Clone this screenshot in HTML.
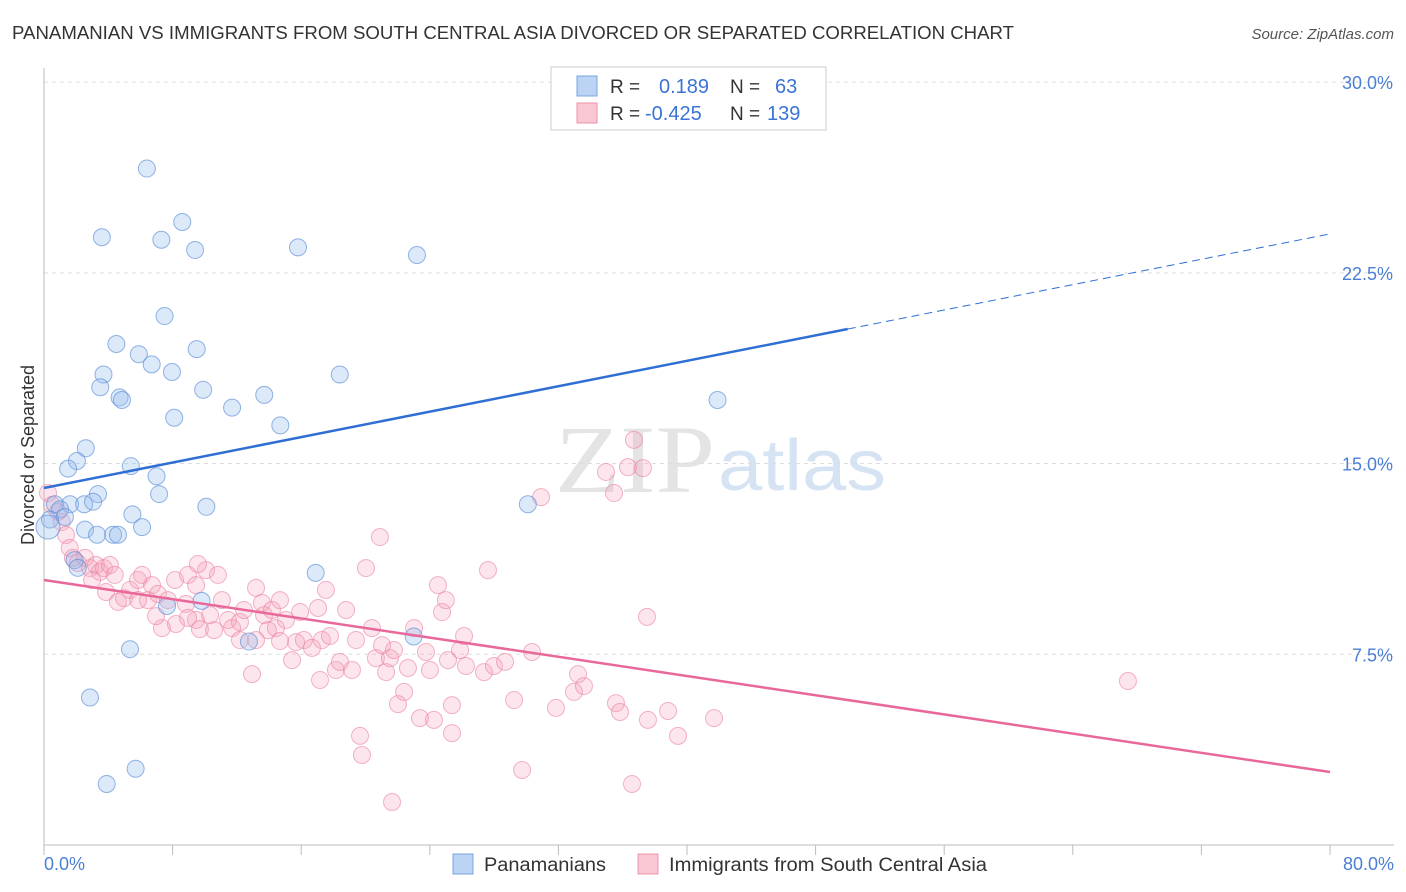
<!DOCTYPE html>
<html><head><meta charset="utf-8"><style>
body{margin:0;background:#fff;font-family:"Liberation Sans",sans-serif}
svg{display:block}
</style></head><body>
<svg width="1406" height="892" xmlns="http://www.w3.org/2000/svg">
<text x="12" y="39" font-size="18" fill="#333" textLength="1002" lengthAdjust="spacingAndGlyphs">PANAMANIAN VS IMMIGRANTS FROM SOUTH CENTRAL ASIA DIVORCED OR SEPARATED CORRELATION CHART</text>
<text x="1394" y="39" font-size="15" fill="#555" text-anchor="end" font-style="italic">Source: ZipAtlas.com</text>
<text x="555" y="492" font-size="96" fill="#e4e4e4" font-family="Liberation Serif" textLength="160" lengthAdjust="spacingAndGlyphs">ZIP</text>
<text x="718" y="490" font-size="72" fill="#d6e3f3" textLength="168" lengthAdjust="spacingAndGlyphs">atlas</text>
<g id="grid"></g><g id="axes"></g><g id="pink"></g><g id="blue"></g><g id="trends"></g>
<text transform="translate(34,455) rotate(-90)" font-size="18" fill="#333" text-anchor="middle">Divorced or Separated</text>
<text x="44" y="870" font-size="18" fill="#4a7fd4">0.0%</text>
<text x="1394" y="870" font-size="18" fill="#4a7fd4" text-anchor="end">80.0%</text>
<g>
<rect x="551" y="67" width="275" height="63" fill="#fff" stroke="#ccc"/>
<rect x="577" y="76" width="20" height="20" fill="#bcd4f3" stroke="#7aa4e0"/>
<rect x="577" y="103" width="20" height="20" fill="#f9c6d4" stroke="#ee92ad"/>
<text x="610" y="93" font-size="19" fill="#333">R =</text><text x="659" y="93" font-size="20" fill="#3b74d6">0.189</text>
<text x="730" y="93" font-size="19" fill="#333">N =</text><text x="775" y="93" font-size="20" fill="#3b74d6">63</text>
<text x="610" y="120" font-size="19" fill="#333">R =</text><text x="645" y="120" font-size="20" fill="#3b74d6">-0.425</text>
<text x="730" y="120" font-size="19" fill="#333">N =</text><text x="767" y="120" font-size="20" fill="#3b74d6">139</text>
</g>
<g>
<rect x="453" y="854" width="20" height="20" fill="#bcd4f3" stroke="#7aa4e0"/>
<text x="484" y="871" font-size="19" fill="#333" textLength="122" lengthAdjust="spacingAndGlyphs">Panamanians</text>
<rect x="638" y="854" width="20" height="20" fill="#f9c6d4" stroke="#ee92ad"/>
<text x="669" y="871" font-size="19" fill="#333" textLength="318" lengthAdjust="spacingAndGlyphs">Immigrants from South Central Asia</text>
</g>
</svg>
<script>
const yTicks=[7.5,15,22.5,30];
const yTickLabels=["7.5%","15.0%","22.5%","30.0%"];
const xTicks=[0,8,16,24,32,40,48,56,64,72,80];
const blueX=[6.4,3.6,7.3,8.6,9.4,15.8,23.2,7.5,4.5,5.9,9.5,6.7,7.96,3.7,18.4,3.5,9.9,4.7,4.85,13.7,11.7,8.1,14.7,41.9,2.6,2.05,1.5,5.4,7.0,3.36,7.16,1.62,2.5,3.05,10.1,30.1,0.68,1.0,1.3,0.37,5.5,6.1,2.55,3.3,4.3,4.6,1.9,2.1,16.9,7.65,9.8,23.0,12.75,5.35,2.86,5.7,3.9,0.25];
const blueY=[26.6,23.9,23.8,24.5,23.4,23.5,23.2,20.8,19.7,19.3,19.5,18.9,18.6,18.5,18.5,18.0,17.9,17.6,17.5,17.7,17.2,16.8,16.5,17.5,15.6,15.1,14.8,14.9,14.5,13.8,13.8,13.4,13.4,13.5,13.3,13.4,13.4,13.2,12.9,12.8,13.0,12.5,12.4,12.2,12.2,12.2,11.2,10.9,10.7,9.4,9.6,8.2,8.0,7.7,5.8,3.0,2.4,12.5];
const pinkX=[0.25,0.5,0.87,1.1,1.37,1.6,1.8,2.1,2.55,2.86,3.23,3.48,3.73,4.1,4.4,2.99,3.86,4.6,4.98,5.35,5.85,6.1,6.72,6.47,7.09,7.71,8.15,8.96,9.46,10.08,10.82,7.34,8.21,8.83,9.46,9.7,10.33,10.58,11.07,11.45,11.7,12.19,12.44,12.94,13.19,13.56,13.69,13.93,14.18,14.68,14.43,15.05,15.43,15.68,15.93,16.17,16.67,17.05,17.29,17.54,17.79,18.16,18.41,18.79,19.16,19.41,19.66,19.78,20.03,20.4,20.65,20.9,21.03,21.28,21.52,21.77,22.02,21.65,22.4,22.64,23.02,23.39,23.76,24.01,24.26,24.51,24.76,25.0,25.13,25.38,25.88,26.13,26.25,27.37,27.62,27.99,28.68,29.24,29.74,30.36,30.92,31.85,32.97,33.22,33.59,34.96,35.46,35.58,35.83,36.33,36.7,37.26,37.57,38.82,39.44,41.68,36.58,37.51,67.43,14.68,12.19,9.58,8.96,6.97,5.85,13.19,17.17,25.38];
const pinkY=[13.84,13.37,13.1,12.7,12.19,11.68,11.29,11.09,11.29,10.89,11.01,10.74,10.89,11.01,10.62,10.42,9.95,9.56,9.71,10.03,10.42,10.62,10.22,9.63,9.87,9.63,10.42,10.62,10.22,10.81,10.62,8.53,8.69,9.48,8.85,8.49,9.04,8.45,9.63,8.85,8.53,8.77,9.24,6.72,10.11,9.52,9.04,8.45,9.24,9.63,8.53,8.85,7.27,7.98,9.16,8.06,7.75,9.32,8.06,10.03,8.22,6.88,7.2,9.24,6.88,8.06,4.29,3.54,10.89,8.53,7.35,12.11,7.86,6.8,7.35,7.67,5.54,1.69,6.02,6.96,8.53,4.99,7.59,6.88,4.92,10.22,9.16,9.63,7.27,4.4,7.67,8.22,7.04,6.8,10.81,7.04,7.2,5.7,2.95,7.59,13.68,5.39,6.02,6.72,6.25,14.67,13.84,5.58,5.23,14.86,15.93,14.82,4.92,5.27,4.29,4.99,2.4,8.97,6.45,8.02,8.06,11.05,8.93,9.0,9.63,8.06,6.49,5.5];
const blueTrend=[14.04,20.29,24.03];
const blueTrendX=[0,50,80];
const pinkTrend=[10.42,2.87];
const pinkTrendX=[0,80];
const NS="http://www.w3.org/2000/svg";
const X0=44,X1=1330,Y0=845,PX=25.43;
const sx=v=>X0+v/80*(X1-X0), sy=v=>Y0-v*PX;
function mk(tag,attrs,parent){const e=document.createElementNS(NS,tag);for(const k in attrs)e.setAttribute(k,attrs[k]);document.getElementById(parent).appendChild(e);return e;}
yTicks.forEach((t,i)=>{
 const l=mk('line',{x1:X0,x2:1394,y1:sy(t),y2:sy(t),stroke:'#ddd','stroke-dasharray':'4,4'},'grid');
 
 
 const tx=mk('text',{x:1393,y:sy(t)+7,'font-size':18,fill:'#4a7fd4','text-anchor':'end'},'grid');
 tx.textContent=yTickLabels[i];
 
 
});
let ya=mk('line',{x1:X0,x2:X0,y1:68,y2:Y0,stroke:'#bbb'},'axes');


let xa=mk('line',{x1:X0,x2:1394,y1:Y0,y2:Y0,stroke:'#bbb'},'axes');


xTicks.forEach(t=>{const l=mk('line',{x1:sx(t),x2:sx(t),y1:Y0,y2:Y0+10,stroke:'#bbb'},'axes');
 
 });
pinkX.forEach((v,i)=>{const c=mk('circle',{cx:sx(v),cy:sy(pinkY[i]),r:8.5,fill:'rgba(244,160,186,0.28)',stroke:'rgba(235,130,162,0.6)','stroke-width':1},'pink');
 
 });
blueX.forEach((v,i)=>{const c=mk('circle',{cx:sx(v),cy:sy(blueY[i]),r:(i==blueX.length-1?12:8.5),fill:'rgba(150,188,238,0.33)',stroke:'rgba(90,140,215,0.65)','stroke-width':1},'blue');
 
 });
let bt=mk('line',{x1:sx(blueTrendX[0]),y1:sy(blueTrend[0]),x2:sx(blueTrendX[1]),y2:sy(blueTrend[1]),stroke:'#2f6fd4','stroke-width':2.5},'trends');


let bd=mk('line',{x1:sx(blueTrendX[1]),y1:sy(blueTrend[1]),x2:sx(blueTrendX[2]),y2:sy(blueTrend[2]),stroke:'#2f6fd4','stroke-width':1,'stroke-dasharray':'8,5'},'trends');


let pt=mk('line',{x1:sx(pinkTrendX[0]),y1:sy(pinkTrend[0]),x2:sx(pinkTrendX[1]),y2:sy(pinkTrend[1]),stroke:'#e8689a','stroke-width':2.5},'trends');


</script>
</body></html>
